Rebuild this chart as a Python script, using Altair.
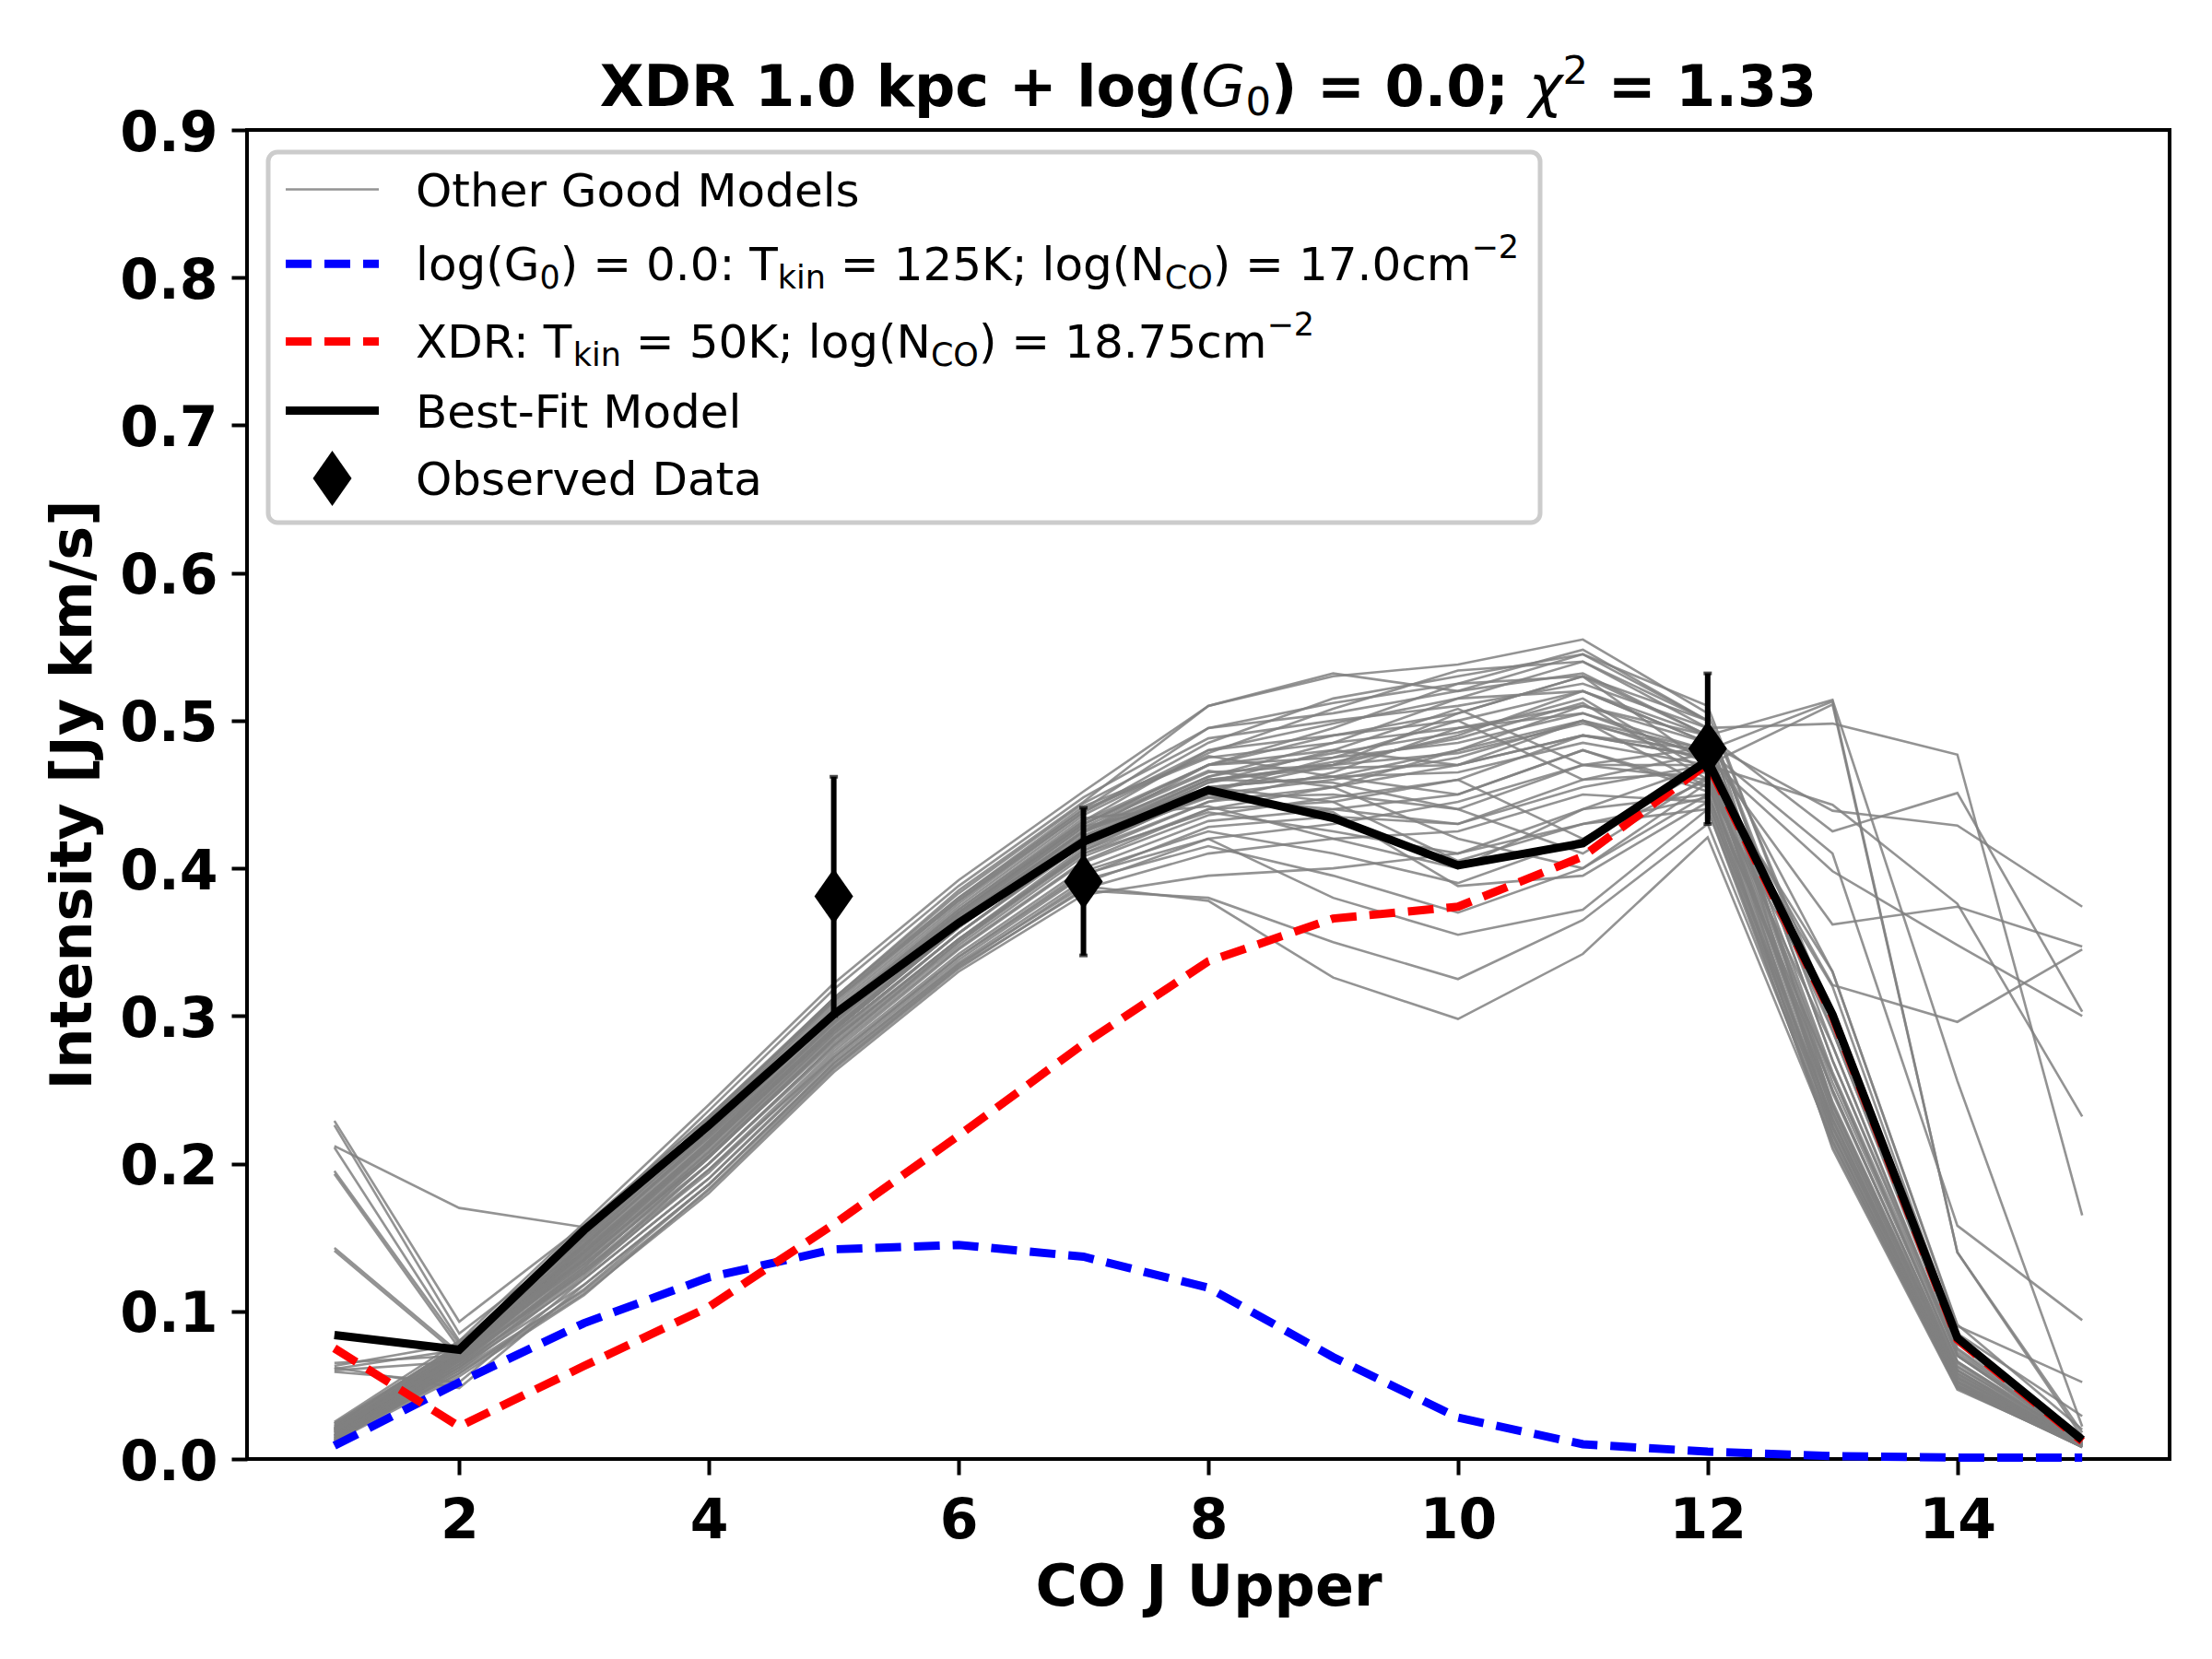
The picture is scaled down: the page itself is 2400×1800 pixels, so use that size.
import altair as alt
import pandas as pd

FONT = "DejaVu Sans"

# ---------------- data ----------------
J_UPPER = list(range(1, 16))

OTHER_MODELS = [
    [0.229, 0.093, 0.158, 0.232, 0.310, 0.380, 0.440, 0.495, 0.512, 0.525, 0.548, 0.500, 0.240, 0.060, 0.012],
    [0.226, 0.085, 0.150, 0.225, 0.302, 0.372, 0.432, 0.480, 0.498, 0.515, 0.540, 0.495, 0.225, 0.055, 0.011],
    [0.212, 0.170, 0.157, 0.232, 0.312, 0.385, 0.445, 0.510, 0.532, 0.520, 0.532, 0.490, 0.514, 0.256, 0.022],
    [0.211, 0.080, 0.140, 0.212, 0.290, 0.360, 0.420, 0.460, 0.470, 0.490, 0.520, 0.485, 0.250, 0.062, 0.013],
    [0.195, 0.078, 0.145, 0.218, 0.296, 0.366, 0.425, 0.470, 0.490, 0.505, 0.530, 0.500, 0.270, 0.070, 0.014],
    [0.193, 0.075, 0.135, 0.205, 0.282, 0.350, 0.410, 0.445, 0.455, 0.470, 0.500, 0.480, 0.260, 0.066, 0.013],
    [0.143, 0.072, 0.142, 0.214, 0.292, 0.362, 0.420, 0.455, 0.462, 0.480, 0.510, 0.490, 0.330, 0.091, 0.020],
    [0.141, 0.070, 0.132, 0.200, 0.278, 0.346, 0.405, 0.440, 0.445, 0.460, 0.490, 0.475, 0.290, 0.075, 0.015],
    [0.063, 0.078, 0.148, 0.222, 0.300, 0.370, 0.430, 0.470, 0.480, 0.470, 0.490, 0.480, 0.513, 0.140, 0.015],
    [0.061, 0.074, 0.140, 0.212, 0.290, 0.360, 0.418, 0.448, 0.440, 0.430, 0.455, 0.470, 0.220, 0.050, 0.010],
    [0.060, 0.066, 0.128, 0.196, 0.272, 0.340, 0.398, 0.425, 0.410, 0.390, 0.420, 0.460, 0.210, 0.047, 0.009],
    [0.062, 0.048, 0.118, 0.186, 0.268, 0.336, 0.392, 0.415, 0.395, 0.370, 0.400, 0.450, 0.230, 0.052, 0.010],
    [0.059, 0.052, 0.122, 0.190, 0.272, 0.340, 0.396, 0.420, 0.380, 0.355, 0.372, 0.440, 0.215, 0.049, 0.009],
    [0.065, 0.070, 0.135, 0.205, 0.285, 0.352, 0.410, 0.438, 0.425, 0.410, 0.440, 0.470, 0.443, 0.376, 0.232],
    [0.025, 0.080, 0.160, 0.240, 0.322, 0.392, 0.452, 0.510, 0.530, 0.538, 0.555, 0.505, 0.300, 0.080, 0.014],
    [0.022, 0.078, 0.155, 0.236, 0.318, 0.388, 0.448, 0.495, 0.505, 0.520, 0.545, 0.500, 0.280, 0.072, 0.013],
    [0.020, 0.075, 0.152, 0.230, 0.312, 0.383, 0.444, 0.488, 0.500, 0.510, 0.525, 0.495, 0.498, 0.477, 0.165],
    [0.018, 0.072, 0.148, 0.226, 0.306, 0.376, 0.438, 0.480, 0.490, 0.500, 0.520, 0.490, 0.425, 0.451, 0.303],
    [0.024, 0.076, 0.150, 0.228, 0.308, 0.378, 0.440, 0.475, 0.485, 0.495, 0.510, 0.485, 0.439, 0.429, 0.374],
    [0.016, 0.070, 0.144, 0.220, 0.300, 0.370, 0.432, 0.470, 0.475, 0.485, 0.505, 0.480, 0.410, 0.158, 0.094],
    [0.015, 0.068, 0.140, 0.215, 0.296, 0.366, 0.428, 0.465, 0.470, 0.478, 0.498, 0.478, 0.362, 0.374, 0.347],
    [0.014, 0.066, 0.136, 0.210, 0.290, 0.360, 0.422, 0.460, 0.468, 0.470, 0.490, 0.475, 0.398, 0.348, 0.300],
    [0.013, 0.064, 0.132, 0.206, 0.286, 0.356, 0.418, 0.455, 0.462, 0.465, 0.485, 0.470, 0.321, 0.296, 0.345],
    [0.012, 0.062, 0.128, 0.200, 0.280, 0.350, 0.412, 0.452, 0.470, 0.505, 0.530, 0.470, 0.511, 0.140, 0.018],
    [0.020, 0.070, 0.138, 0.212, 0.292, 0.362, 0.425, 0.462, 0.478, 0.492, 0.515, 0.465, 0.330, 0.090, 0.052],
    [0.019, 0.068, 0.134, 0.208, 0.288, 0.356, 0.418, 0.458, 0.472, 0.488, 0.512, 0.460, 0.320, 0.085, 0.029],
    [0.017, 0.066, 0.130, 0.204, 0.284, 0.352, 0.414, 0.450, 0.460, 0.475, 0.500, 0.455, 0.300, 0.080, 0.016],
    [0.021, 0.072, 0.142, 0.218, 0.298, 0.368, 0.428, 0.448, 0.450, 0.440, 0.470, 0.460, 0.280, 0.070, 0.012],
    [0.023, 0.074, 0.146, 0.222, 0.302, 0.372, 0.434, 0.442, 0.420, 0.400, 0.440, 0.450, 0.260, 0.065, 0.011],
    [0.018, 0.067, 0.126, 0.194, 0.274, 0.342, 0.400, 0.432, 0.440, 0.450, 0.480, 0.455, 0.250, 0.060, 0.010],
    [0.016, 0.064, 0.122, 0.190, 0.270, 0.338, 0.395, 0.428, 0.435, 0.430, 0.460, 0.465, 0.240, 0.058, 0.010],
    [0.015, 0.062, 0.118, 0.186, 0.266, 0.334, 0.390, 0.420, 0.430, 0.445, 0.470, 0.470, 0.235, 0.056, 0.009],
    [0.014, 0.060, 0.114, 0.182, 0.264, 0.332, 0.386, 0.410, 0.420, 0.425, 0.450, 0.445, 0.230, 0.054, 0.009],
    [0.013, 0.058, 0.112, 0.180, 0.262, 0.330, 0.382, 0.395, 0.400, 0.410, 0.430, 0.440, 0.225, 0.052, 0.008],
    [0.012, 0.056, 0.111, 0.183, 0.265, 0.333, 0.385, 0.380, 0.350, 0.325, 0.365, 0.430, 0.220, 0.050, 0.008],
    [0.013, 0.058, 0.115, 0.186, 0.268, 0.335, 0.388, 0.378, 0.326, 0.298, 0.342, 0.421, 0.215, 0.048, 0.008],
    [0.022, 0.076, 0.150, 0.228, 0.310, 0.378, 0.438, 0.485, 0.515, 0.530, 0.545, 0.510, 0.290, 0.078, 0.013],
    [0.020, 0.074, 0.146, 0.224, 0.304, 0.374, 0.436, 0.478, 0.508, 0.534, 0.540, 0.500, 0.270, 0.074, 0.012],
    [0.019, 0.072, 0.144, 0.220, 0.300, 0.370, 0.430, 0.470, 0.495, 0.525, 0.530, 0.490, 0.262, 0.070, 0.012],
    [0.017, 0.070, 0.140, 0.216, 0.296, 0.364, 0.426, 0.462, 0.485, 0.515, 0.520, 0.485, 0.255, 0.066, 0.011],
    [0.016, 0.068, 0.136, 0.212, 0.292, 0.360, 0.420, 0.458, 0.480, 0.508, 0.470, 0.482, 0.248, 0.063, 0.011],
    [0.015, 0.066, 0.134, 0.208, 0.288, 0.356, 0.416, 0.452, 0.475, 0.500, 0.460, 0.478, 0.242, 0.060, 0.010],
    [0.014, 0.064, 0.130, 0.204, 0.284, 0.352, 0.412, 0.445, 0.465, 0.495, 0.505, 0.475, 0.238, 0.058, 0.010],
    [0.013, 0.062, 0.126, 0.200, 0.280, 0.348, 0.408, 0.440, 0.455, 0.480, 0.500, 0.472, 0.235, 0.057, 0.010],
    [0.012, 0.060, 0.124, 0.196, 0.276, 0.345, 0.404, 0.436, 0.448, 0.460, 0.420, 0.468, 0.232, 0.055, 0.009],
    [0.018, 0.070, 0.140, 0.214, 0.294, 0.362, 0.424, 0.460, 0.458, 0.440, 0.410, 0.462, 0.228, 0.053, 0.009],
    [0.021, 0.073, 0.144, 0.220, 0.300, 0.368, 0.430, 0.466, 0.455, 0.420, 0.400, 0.458, 0.225, 0.052, 0.009],
    [0.024, 0.077, 0.152, 0.230, 0.312, 0.380, 0.442, 0.476, 0.462, 0.450, 0.480, 0.452, 0.222, 0.050, 0.009],
    [0.020, 0.070, 0.140, 0.215, 0.295, 0.365, 0.425, 0.455, 0.445, 0.405, 0.430, 0.448, 0.218, 0.049, 0.008],
    [0.019, 0.069, 0.138, 0.212, 0.292, 0.362, 0.422, 0.450, 0.438, 0.388, 0.395, 0.445, 0.212, 0.048, 0.008],
]

PDR_MODEL = [0.009, 0.052, 0.092, 0.123, 0.142, 0.145, 0.137, 0.116, 0.069, 0.028, 0.010, 0.005, 0.002, 0.001, 0.001]
XDR_MODEL = [0.075, 0.022, 0.063, 0.103, 0.159, 0.219, 0.281, 0.337, 0.366, 0.374, 0.408, 0.471, 0.300, 0.081, 0.012]
BEST_FIT = [0.084, 0.074, 0.155, 0.226, 0.301, 0.363, 0.418, 0.453, 0.434, 0.402, 0.417, 0.473, 0.301, 0.082, 0.013]

OBS_J = [5, 7, 12]
OBS_I = [0.381, 0.391, 0.481]
OBS_ERR = [0.081, 0.050, 0.051]

X_TICKS = [2, 4, 6, 8, 10, 12, 14]
Y_TICKS = [0.0, 0.1, 0.2, 0.3, 0.4, 0.5, 0.6, 0.7, 0.8, 0.9]

TITLE_SEGS = [("XDR 1.0 kpc + log(", "b"), ("G", "it"), ("0", "sub"), (") = 0.0; ", "b"),
              ("χ", "it"), ("2", "sup"), (" = 1.33", "b")]
LEGEND_LABELS = [
    [("Other Good Models", "n")],
    [("log(G", "n"), ("0", "sub"), (") = 0.0: T", "n"), ("kin", "sub"), (" = 125K; log(N", "n"),
     ("CO", "sub"), (") = 17.0cm", "n"), ("−2", "sup")],
    [("XDR: T", "n"), ("kin", "sub"), (" = 50K; log(N", "n"), ("CO", "sub"), (") = 18.75cm", "n"), ("−2", "sup")],
    [("Best-Fit Model", "n")],
    [("Observed Data", "n")],
]

# ---------------- layout helpers ----------------
W, H = 2086, 1442
XSCALE = alt.Scale(domain=[0.3, 15.7], nice=False, zero=False)
YSCALE = alt.Scale(domain=[0.0, 0.9], nice=False, zero=False)

REG = {' ': 651, '(': 799, ')': 799, '-': 739, '.': 651, ':': 690, ';': 690, '=': 1716, '−': 1716,
       'B': 1405, 'C': 1430, 'D': 1577, 'F': 1178, 'G': 1589, 'K': 1343, 'M': 1767, 'N': 1532,
       'O': 1612, 'R': 1423, 'T': 1251, 'X': 1403, 'a': 1255, 'b': 1300, 'c': 1126, 'd': 1300,
       'e': 1260, 'g': 1300, 'h': 1298, 'i': 569, 'k': 1186, 'l': 569, 'm': 1995, 'n': 1298,
       'o': 1253, 'r': 842, 's': 1067, 't': 803, 'v': 1212, 'χ': 1212}
for _d in "0123456789":
    REG[_d] = 1303
BOLD = {' ': 713, '(': 936, ')': 936, '+': 1716, '.': 780, ';': 821, '=': 1716, 'D': 1696,
        'R': 1569, 'X': 1552, 'c': 1212, 'g': 1466, 'k': 1356, 'l': 700, 'o': 1407, 'p': 1466}
for _d in "0123456789":
    BOLD[_d] = 1425


def seg_rows(segs, x0, y0, fs, main_tab, sub_dy, sup_dy):
    rows = []
    x = x0
    for text, kind in segs:
        if kind in ("sub", "sup"):
            size, tab = fs * 0.7, REG
            dy = sub_dy if kind == "sub" else -sup_dy
        elif kind == "it":
            size, tab, dy = fs, REG, 0
        else:
            size, tab, dy = fs, main_tab, 0
        lead = len(text) - len(text.lstrip(" "))
        xs = x + lead * tab[' '] / 2048 * size
        rows.append({"px": xs, "py": y0 + dy, "t": text.strip(" "), "kind": kind})
        x += sum(tab.get(c, 1300) for c in text) / 2048 * size
    return rows, x - x0


def text_layer(rows, kinds, size, weight="normal", style="normal"):
    df = pd.DataFrame([r for r in rows if r["kind"] in kinds])
    return alt.Chart(df).mark_text(
        align="left", baseline="alphabetic", font=FONT, fontSize=size,
        fontWeight=weight, fontStyle=style, color="black"
    ).encode(
        x=alt.X("px:Q", scale=None, axis=None),
        y=alt.Y("py:Q", scale=None, axis=None),
        text="t:N",
    )


X_AXIS = alt.Axis(values=X_TICKS, format="d", title="CO J Upper", grid=False, domain=False,
                  tickSize=17, tickWidth=4, tickColor="black", labelPadding=21,
                  labelFont=FONT, labelFontSize=60, labelFontWeight="bold", labelColor="black",
                  labelFlush=False, labelOverlap=False,
                  titleFont=FONT, titleFontSize=62, titleFontWeight="bold", titleColor="black",
                  titleX=W / 2, titleY=158, titleBaseline="alphabetic", titleAlign="center")
Y_AXIS = alt.Axis(values=Y_TICKS, format=".1f", title="Intensity [Jy km/s]", grid=False, domain=False,
                  tickSize=17, tickWidth=4, tickColor="black", labelPadding=15, labelOffset=4,
                  labelFont=FONT, labelFontSize=60, labelFontWeight="bold", labelColor="black",
                  labelFlush=False, labelOverlap=False,
                  titleFont=FONT, titleFontSize=62, titleFontWeight="bold", titleColor="black",
                  titleX=-189, titleY=H / 2, titleAngle=270, titleBaseline="middle", titleAlign="center")


def X(field):
    return alt.X(field, scale=XSCALE, axis=X_AXIS, title="CO J Upper")


def Y(field):
    return alt.Y(field, scale=YSCALE, axis=Y_AXIS, title="Intensity [Jy km/s]")


# ---------------- data frames ----------------
gray_rows = []
for m, vals in enumerate(OTHER_MODELS):
    for j, v in zip(J_UPPER, vals):
        gray_rows.append({"J": j, "I": v, "model": m})
gray_df = pd.DataFrame(gray_rows)
pdr_df = pd.DataFrame({"J": J_UPPER, "I": PDR_MODEL})
xdr_df = pd.DataFrame({"J": J_UPPER, "I": XDR_MODEL})
best_df = pd.DataFrame({"J": J_UPPER, "I": BEST_FIT})
obs_df = pd.DataFrame({"J": OBS_J, "I": OBS_I,
                       "lo": [i - e for i, e in zip(OBS_I, OBS_ERR)],
                       "hi": [i + e for i, e in zip(OBS_I, OBS_ERR)]})

GRAY = "#808080"
DASH = [28, 14]
LW = 9
DIAMOND = "M0,-1L0.7,0L0,1L-0.7,0Z"
DSIZE = 60 * 60

gray = alt.Chart(gray_df).mark_line(color=GRAY, strokeWidth=2.6, opacity=0.85).encode(
    x=X("J:Q"), y=Y("I:Q"), detail="model:N")
pdr = alt.Chart(pdr_df).mark_line(color="blue", strokeWidth=LW, strokeDash=DASH).encode(x=X("J:Q"), y=Y("I:Q"))
xdr = alt.Chart(xdr_df).mark_line(color="red", strokeWidth=LW, strokeDash=DASH).encode(x=X("J:Q"), y=Y("I:Q"))
best = alt.Chart(best_df).mark_line(color="black", strokeWidth=LW).encode(x=X("J:Q"), y=Y("I:Q"))
err = alt.Chart(obs_df).mark_rule(color="black", strokeWidth=6).encode(x=X("J:Q"), y=Y("lo:Q"), y2="hi:Q")
cap_hi = alt.Chart(obs_df).mark_tick(color="black", orient="horizontal", size=9, thickness=4).encode(
    x=X("J:Q"), y=Y("hi:Q"))
cap_lo = alt.Chart(obs_df).mark_tick(color="black", orient="horizontal", size=9, thickness=4).encode(
    x=X("J:Q"), y=Y("lo:Q"))
obs = alt.Chart(obs_df).mark_point(shape=DIAMOND, size=DSIZE, filled=True, color="black", opacity=1).encode(
    x=X("J:Q"), y=Y("I:Q"))

# ---------------- title ----------------
_, tw = seg_rows(TITLE_SEGS, 0, 0, 62, BOLD, 10, 24)
title_rows, _ = seg_rows(TITLE_SEGS, W / 2 - tw / 2, -26, 62, BOLD, 10, 24)
title_layers = [
    text_layer(title_rows, ["b"], 62, "bold"),
    text_layer(title_rows, ["it"], 62, "normal", "italic"),
    text_layer(title_rows, ["sub", "sup"], 62 * 0.7),
]

# ---------------- legend ----------------
one = pd.DataFrame({"a": [0]})
LEG_ROWS_Y = [64.5, 145.3, 229.4, 304.5, 378]
H_X0, H_X1, TXT_X = 42, 143, 183
frame = alt.Chart(one).mark_rect(fill="white", fillOpacity=0.8, stroke="#cccccc", strokeWidth=5,
                                 cornerRadius=10).encode(
    x=alt.value(23), x2=alt.value(1403), y=alt.value(24), y2=alt.value(426))
h_gray = alt.Chart(one).mark_rule(color=GRAY, strokeWidth=2.6, opacity=0.85).encode(
    x=alt.value(H_X0), x2=alt.value(H_X1), y=alt.value(LEG_ROWS_Y[0]))
h_pdr = alt.Chart(one).mark_rule(color="blue", strokeWidth=LW, strokeDash=DASH).encode(
    x=alt.value(H_X0), x2=alt.value(H_X1), y=alt.value(LEG_ROWS_Y[1]))
h_xdr = alt.Chart(one).mark_rule(color="red", strokeWidth=LW, strokeDash=DASH).encode(
    x=alt.value(H_X0), x2=alt.value(H_X1), y=alt.value(LEG_ROWS_Y[2]))
h_best = alt.Chart(one).mark_rule(color="black", strokeWidth=LW).encode(
    x=alt.value(H_X0), x2=alt.value(H_X1), y=alt.value(LEG_ROWS_Y[3]))
h_obs = alt.Chart(one).mark_point(shape=DIAMOND, size=DSIZE, filled=True, color="black", opacity=1).encode(
    x=alt.value((H_X0 + H_X1) / 2), y=alt.value(LEG_ROWS_Y[4]))

leg_rows = []
for segs, yc in zip(LEGEND_LABELS, LEG_ROWS_Y):
    r, _ = seg_rows(segs, TXT_X, yc + 18, 50, REG, 9, 24)
    leg_rows += r
legend_layers = [
    text_layer(leg_rows, ["n"], 50),
    text_layer(leg_rows, ["sub", "sup"], 35),
]

chart = alt.layer(
    gray, pdr, xdr, best, err, cap_hi, cap_lo, obs,
    frame, h_gray, h_pdr, h_xdr, h_best, h_obs,
    *legend_layers, *title_layers,
).properties(
    width=W, height=H,
    padding={"left": 260, "top": 133, "right": 38, "bottom": 209},
    autosize=alt.AutoSizeParams(type="none"),
    background="white",
).configure_view(stroke="black", strokeWidth=4)

chart.save("out.html", embed_options={"renderer": "svg", "actions": False})
